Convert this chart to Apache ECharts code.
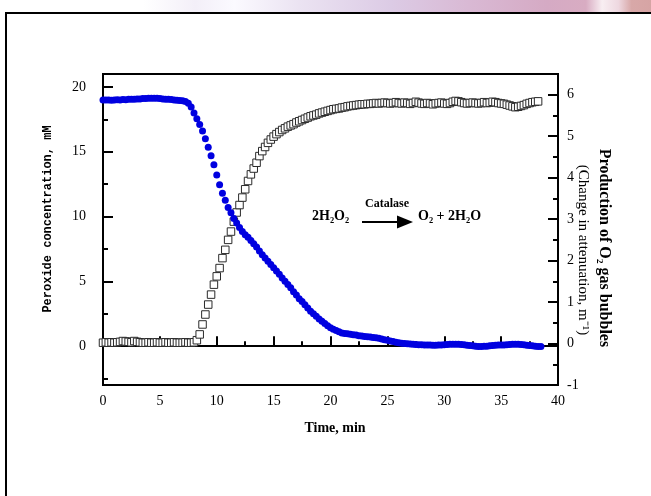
<!DOCTYPE html>
<html>
<head>
<meta charset="utf-8">
<style>
  html, body { margin: 0; padding: 0; background: #fff; }
  #chart { width: 651px; height: 496px; }
</style>
<script src="https://cdn.jsdelivr.net/npm/echarts@6/dist/echarts.min.js"></script>
</head>
<body>
<div id="chart"></div>
<script>
// sampling step of both traces, minutes
var step = 0.25;

// peroxide concentration, mM (left axis), t = 0, 0.25, ... 38.5
var peroxide = [
  19.0, 19.0, 19.0, 18.98, 19.0, 19.02, 19.0, 19.03, 19.02, 19.05,
  19.05, 19.06, 19.08, 19.08, 19.1, 19.1, 19.12, 19.12, 19.13, 19.12,
  19.1, 19.08, 19.06, 19.05, 19.03, 19.0, 18.98, 18.96, 18.93, 18.88,
  18.75, 18.45, 18.0, 17.55, 17.1, 16.6, 16.0, 15.35, 14.7, 14.0,
  13.2, 12.45, 11.8, 11.25, 10.7, 10.3, 9.85, 9.5, 9.15, 8.85,
  8.6, 8.4, 8.15, 7.9, 7.65, 7.35, 7.05, 6.8, 6.55, 6.3,
  6.05, 5.8, 5.55, 5.25, 5.0, 4.75, 4.5, 4.2, 3.95, 3.65,
  3.45, 3.2, 2.95, 2.7, 2.5, 2.3, 2.1, 1.92, 1.75, 1.58,
  1.42, 1.3, 1.2, 1.1, 1.02, 0.98, 0.95, 0.92, 0.88, 0.85,
  0.8, 0.78, 0.75, 0.72, 0.7, 0.67, 0.64, 0.6, 0.55, 0.5,
  0.45, 0.4, 0.35, 0.3, 0.26, 0.22, 0.2, 0.18, 0.16, 0.14,
  0.12, 0.1, 0.1, 0.09, 0.08, 0.08, 0.07, 0.07, 0.08, 0.08,
  0.1, 0.12, 0.14, 0.15, 0.15, 0.14, 0.12, 0.1, 0.07, 0.04,
  0.02, 0.0, -0.02, -0.02, -0.01, 0.0, 0.02, 0.04, 0.06, 0.08,
  0.08, 0.09, 0.1, 0.12, 0.14, 0.15, 0.15, 0.13, 0.1, 0.07,
  0.04, 0.02, 0.0, -0.02, -0.03
];

// O2 gas bubbles, change in attenuation m-1 (right axis), t = 0 ... 38.25
var bubbles = [
  0.02, 0.03, 0.02, 0.03, 0.02, 0.03, 0.04, 0.06, 0.05, 0.04,
  0.03, 0.06, 0.04, 0.03, 0.02, 0.02, 0.03, 0.02, 0.02, 0.03,
  0.02, 0.02, 0.03, 0.02, 0.02, 0.03, 0.02, 0.02, 0.02, 0.03,
  0.02, 0.02, 0.03, 0.08, 0.22, 0.46, 0.7, 0.94, 1.18, 1.42,
  1.62, 1.82, 2.06, 2.26, 2.5, 2.7, 2.94, 3.16, 3.34, 3.52,
  3.72, 3.92, 4.08, 4.22, 4.36, 4.52, 4.64, 4.74, 4.84, 4.92,
  4.99, 5.05, 5.1, 5.15, 5.19, 5.23, 5.26, 5.29, 5.33, 5.36,
  5.39, 5.42, 5.45, 5.48, 5.5, 5.52, 5.55, 5.57, 5.59, 5.61,
  5.63, 5.65, 5.66, 5.67, 5.69, 5.7, 5.72, 5.73, 5.74, 5.75,
  5.76, 5.77, 5.77, 5.78, 5.78, 5.79, 5.8, 5.79, 5.8, 5.81,
  5.8, 5.79, 5.8, 5.82, 5.8, 5.79, 5.81, 5.8, 5.78, 5.8,
  5.83, 5.81, 5.79, 5.78, 5.8, 5.79, 5.77, 5.79, 5.8, 5.81,
  5.79, 5.78, 5.8, 5.83, 5.85, 5.84, 5.82, 5.8, 5.79, 5.8,
  5.81, 5.8, 5.79, 5.8, 5.82, 5.8, 5.81, 5.83, 5.82, 5.8,
  5.79, 5.78, 5.76, 5.74, 5.72, 5.7, 5.71, 5.73, 5.75, 5.78,
  5.8, 5.82, 5.83, 5.84
];

// tick positions
var leftLabels = [0, 5, 10, 15, 20];
var leftMinor = [-2.5, 2.5, 7.5, 12.5, 17.5];
var rightLabels = [-1, 0, 1, 2, 3, 4, 5, 6];
var rightMinor = [-0.5, 0.5, 1.5, 2.5, 3.5, 4.5, 5.5];

function pairs(vals) {
  return vals.map(function (v, i) { return [i * step, v]; });
}

var serif = '"Liberation Serif", "Times New Roman", serif';
var black = '#000';

var chart = echarts.init(document.getElementById('chart'));

var option = {
  animation: false,
  backgroundColor: '#fff',
  grid: {
    left: 103, right: 93, top: 74, bottom: 111,
    show: true, borderColor: black, borderWidth: 2
  },
  xAxis: {
    type: 'value', min: 0, max: 40, interval: 5,
    axisLine: { lineStyle: { color: black, width: 2 } },
    axisTick: { inside: true, length: 10, lineStyle: { color: black, width: 2 } },
    minorTick: { show: true, splitNumber: 2, length: 5, lineStyle: { color: black, width: 2 } },
    splitLine: { show: false },
    axisLabel: { color: black, fontFamily: serif, fontSize: 14, margin: 9 }
  },
  yAxis: [
    {
      type: 'value', position: 'left', min: -3, max: 21,
      axisLine: { show: true, lineStyle: { color: black, width: 2 } },
      axisTick: { show: true, inside: true, length: 10, customValues: leftLabels, lineStyle: { color: black, width: 2 } },
      splitLine: { show: false },
      axisLabel: { color: black, fontFamily: serif, fontSize: 14, margin: 17, customValues: leftLabels }
    },
    {
      type: 'value', position: 'left', offset: 0, min: -3, max: 21,
      axisLine: { show: false },
      axisTick: { show: true, inside: true, length: 5, customValues: leftMinor, lineStyle: { color: black, width: 2 } },
      splitLine: { show: false },
      axisLabel: { show: false }
    },
    {
      type: 'value', position: 'right', min: -1, max: 6.5,
      axisLine: { show: true, lineStyle: { color: black, width: 2 } },
      axisTick: { show: true, inside: true, length: 10, customValues: rightLabels, lineStyle: { color: black, width: 2 } },
      splitLine: { show: false },
      axisLabel: { color: black, fontFamily: serif, fontSize: 14, margin: 9, customValues: rightLabels }
    },
    {
      type: 'value', position: 'right', offset: 0, min: -1, max: 6.5,
      axisLine: { show: false },
      axisTick: { show: true, inside: true, length: 5, customValues: rightMinor, lineStyle: { color: black, width: 2 } },
      splitLine: { show: false },
      axisLabel: { show: false }
    }
  ],
  series: [
    {
      name: 'O2 bubbles', type: 'scatter', yAxisIndex: 2,
      symbol: 'rect', symbolSize: 7.5,
      itemStyle: { color: '#fff', borderColor: '#2a2a2a', borderWidth: 1, opacity: 1 },
      data: pairs(bubbles)
    },
    {
      name: 'Peroxide', type: 'scatter', yAxisIndex: 0,
      symbol: 'circle', symbolSize: 7,
      itemStyle: { color: '#0000e0', opacity: 1 },
      data: pairs(peroxide)
    }
  ],
  graphic: [
    {
      type: 'rect', silent: true, z: -10,
      shape: { x: 0, y: 0, width: 651, height: 12 },
      style: {
        fill: new echarts.graphic.LinearGradient(0, 0, 1, 0, [
          { offset: 0, color: '#ffffff' },
          { offset: 0.22, color: '#ffffff' },
          { offset: 0.3, color: '#f3eff8' },
          { offset: 0.36, color: '#fbfaff' },
          { offset: 0.46, color: '#ebe3f2' },
          { offset: 0.6, color: '#dccbe5' },
          { offset: 0.72, color: '#d9b9d4' },
          { offset: 0.84, color: '#d5aac4' },
          { offset: 0.9, color: '#d8acc2' },
          { offset: 0.925, color: '#f8eef2' },
          { offset: 0.95, color: '#eed8e0' },
          { offset: 0.97, color: '#d8a8a8' },
          { offset: 1, color: '#d6a4a4' }
        ])
      }
    },
    {
      type: 'rect', silent: true, z: -9,
      shape: { x: 6, y: 13, width: 700, height: 600 },
      style: { fill: 'none', stroke: black, lineWidth: 2 }
    },
    {
      type: 'text', silent: true, x: 335, y: 428,
      style: { text: 'Time, min', fontFamily: serif, fontWeight: 'bold', fontSize: 14, fill: black,
        align: 'center', verticalAlign: 'middle', textAlign: 'center', textVerticalAlign: 'middle' }
    },
    {
      type: 'text', silent: true, x: 48, y: 219, rotation: Math.PI / 2,
      style: { text: 'Peroxide concentration, mM', fontFamily: '"Liberation Mono", monospace', fontWeight: 'bold', fontSize: 12, fill: black,
        align: 'center', verticalAlign: 'middle', textAlign: 'center', textVerticalAlign: 'middle' }
    },
    {
      type: 'text', silent: true, x: 604, y: 248, rotation: -Math.PI / 2,
      style: { text: 'Production of O\u2082 gas bubbles', fontFamily: serif, fontWeight: 'bold', fontSize: 16, fill: black,
        align: 'center', verticalAlign: 'middle', textAlign: 'center', textVerticalAlign: 'middle' }
    },
    {
      type: 'text', silent: true, x: 583, y: 250, rotation: -Math.PI / 2,
      style: { text: '(Change in attenuation, m\u207B\u00B9)', fontFamily: serif, fontSize: 15, fill: black,
        align: 'center', verticalAlign: 'middle', textAlign: 'center', textVerticalAlign: 'middle' }
    },
    {
      type: 'text', silent: true, x: 312, y: 216,
      style: { text: '2H\u2082O\u2082', fontFamily: serif, fontWeight: 'bold', fontSize: 14, fill: black,
        align: 'left', verticalAlign: 'middle', textAlign: 'left', textVerticalAlign: 'middle' }
    },
    {
      type: 'text', silent: true, x: 387, y: 204,
      style: { text: 'Catalase', fontFamily: serif, fontWeight: 'bold', fontSize: 12, fill: black,
        align: 'center', verticalAlign: 'middle', textAlign: 'center', textVerticalAlign: 'middle' }
    },
    {
      type: 'line', silent: true,
      shape: { x1: 362, y1: 222, x2: 400, y2: 222 },
      style: { stroke: black, lineWidth: 2 }
    },
    {
      type: 'polygon', silent: true,
      shape: { points: [[397, 215.5], [413, 222], [397, 228.5]] },
      style: { fill: black }
    },
    {
      type: 'text', silent: true, x: 418, y: 216,
      style: { text: 'O\u2082 + 2H\u2082O', fontFamily: serif, fontWeight: 'bold', fontSize: 14, fill: black,
        align: 'left', verticalAlign: 'middle', textAlign: 'left', textVerticalAlign: 'middle' }
    }
  ]
};

chart.setOption(option);
</script>
</body>
</html>
